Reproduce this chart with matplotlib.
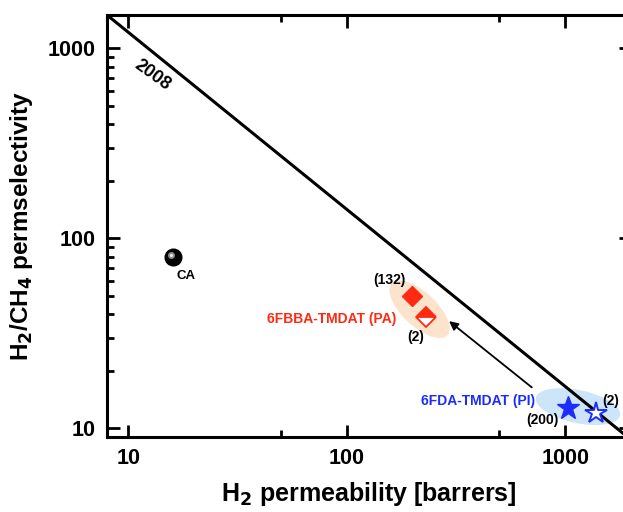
import matplotlib
matplotlib.use("Agg")
import matplotlib.pyplot as plt
from matplotlib.patches import Ellipse
from matplotlib.transforms import offset_copy, ScaledTranslation
from matplotlib.ticker import FixedLocator, FixedFormatter, NullFormatter
import numpy as np

plt.rcParams['font.family'] = ['Liberation Sans', 'DejaVu Sans']
plt.rcParams['font.weight'] = 'bold'
plt.rcParams['mathtext.default'] = 'bf'

# ---------------- data ----------------
line_x = [8, 2000]          # 2008 upper bound
line_y = [1500, 8.7]
ca_x = [16]
ca_y = [80]
pa_x = [200, 230]           # 6FBBA-TMDAT (PA): (132) filled, (2) half-filled
pa_y = [50, 38.5]
pi_x = [1035, 1390]         # 6FDA-TMDAT (PI): (200) filled, (2) open
pi_y = [12.8, 12.0]
x_major = [10, 100, 1000]
x_minor = [50, 500]
y_major = [10, 100, 1000]
x_labels = ['10', '100', '1000']
y_labels = ['10', '100', '1000']

RED = '#ff2a12'
BLUE = '#1c2cff'

fig = plt.figure(figsize=(6.23, 5.12), dpi=100)
ax = fig.add_axes([107/623, 75/512, (631-107)/623, (437-15)/512])
ax.set_xscale('log')
ax.set_yscale('log')
ax.set_xlim(8, 2000)
ax.set_ylim(9, 1500)

# ellipses (drawn in display units around the data groups)
def group_ellipse(xs, ys, w_px, h_px, ang, color, dx_px=0, dy_px=0):
    cx = float(np.exp(np.mean(np.log(xs))))
    cy = float(np.exp(np.mean(np.log(ys))))
    tr = fig.dpi_scale_trans + ScaledTranslation(cx, cy, ax.transData)
    e = Ellipse((dx_px/100, dy_px/100), w_px/100, h_px/100, angle=ang,
                transform=tr, facecolor=color, edgecolor='none', zorder=1)
    ax.add_patch(e)

group_ellipse(pa_x, pa_y, 76, 34, -43, '#fbe4cb', dx_px=0.5, dy_px=-3)
group_ellipse(pi_x, pi_y, 86, 33, -12, '#cce5f8', dx_px=-4.5, dy_px=4)

# 2008 bound
ax.plot(line_x, line_y, color='black', lw=2.2, zorder=3, solid_capstyle='butt')
ax.text(12.9, 725, '2008', rotation=-36, ha='center', va='center',
        fontsize=13, fontweight='bold', zorder=4)

# CA sphere
ax.plot(ca_x, ca_y, 'o', ms=12, color='black', zorder=5)
hl = offset_copy(ax.transData, fig=fig, x=-1.3, y=1.3, units='points')
ax.plot(ca_x, ca_y, 'o', ms=5, color='#8c8c8c', mec='none', transform=hl, zorder=6)
ax.plot(ca_x, ca_y, 'o', ms=2.2, color='#e8e8e8', mec='none', transform=hl, zorder=7)
ax.annotate('CA', (ca_x[0], ca_y[0]), xytext=(9.5, -14), textcoords='offset points',
            ha='center', va='center', fontsize=9.5, fontweight='bold')

# PA diamonds
ax.plot(pa_x[0], pa_y[0], 'D', ms=10.5, color=RED, mec=RED, zorder=5)
ax.plot(pa_x[1], pa_y[1], 'D', ms=10.5, color=RED, mec=RED, mew=1.3,
        fillstyle='top', markerfacecoloralt='white', zorder=5)
ax.annotate('(132)', (pa_x[0], pa_y[0]), xytext=(-16.5, 11.5), textcoords='offset points',
            ha='center', va='center', fontsize=10, fontweight='bold')
ax.annotate('(2)', (pa_x[1], pa_y[1]), xytext=(-7, -14), textcoords='offset points',
            ha='center', va='center', fontsize=10, fontweight='bold')
ax.annotate('6FBBA-TMDAT (PA)', (pa_x[1], pa_y[1]), xytext=(-21.5, -1), textcoords='offset points',
            ha='right', va='center', fontsize=10, fontweight='bold', color=RED)

# PI stars
ax.plot(pi_x[0], pi_y[0], '*', ms=17, color=BLUE, mec=BLUE, zorder=5)
ax.plot(pi_x[1], pi_y[1], '*', ms=16, color='white', mec=BLUE, mew=1.4, zorder=5)
ax.annotate('6FDA-TMDAT (PI)', (pi_x[0], pi_y[0]), xytext=(-24, 5.3), textcoords='offset points',
            ha='right', va='center', fontsize=10, fontweight='bold', color=BLUE)
ax.annotate('(200)', (pi_x[0], pi_y[0]), xytext=(-18.6, -8.5), textcoords='offset points',
            ha='center', va='center', fontsize=10, fontweight='bold')
ax.annotate('(2)', (pi_x[1], pi_y[1]), xytext=(10, 9.1), textcoords='offset points',
            ha='center', va='center', fontsize=10, fontweight='bold')

# arrow from PI group to PA group
ax.annotate('', xy=(pa_x[1], pa_y[1]),
            xycoords=offset_copy(ax.transData, fig=fig, x=16.8, y=-2.9, units='points'),
            xytext=(pi_x[0], pi_y[0]),
            textcoords=offset_copy(ax.transData, fig=fig, x=-26.4, y=14.8, units='points'),
            arrowprops=dict(arrowstyle='-|>', color='black', lw=1.3,
                            shrinkA=0, shrinkB=0, mutation_scale=13))

# axes styling
for s in ax.spines.values():
    s.set_linewidth(2.2)
ax.xaxis.set_major_locator(FixedLocator(x_major))
ax.xaxis.set_major_formatter(FixedFormatter(x_labels))
ax.xaxis.set_minor_locator(FixedLocator(x_minor))
ax.xaxis.set_minor_formatter(NullFormatter())
ax.yaxis.set_major_locator(FixedLocator(y_major))
ax.yaxis.set_major_formatter(FixedFormatter(y_labels))
ax.yaxis.set_minor_formatter(NullFormatter())
ax.tick_params(which='both', direction='in', top=True, right=True)
ax.tick_params(which='major', length=9, width=2, pad=8, labelsize=15.5)
ax.tick_params(which='minor', length=5, width=2)
for lab in ax.get_xticklabels() + ax.get_yticklabels():
    lab.set_fontweight('bold')

ax.set_xlabel('H$_2$ permeability [barrers]', fontsize=18, fontweight='bold', labelpad=8)
ax.set_ylabel('H$_2$/CH$_4$ permselectivity', fontsize=17.5, fontweight='bold', labelpad=9)

fig.savefig('out.png', dpi=100)
